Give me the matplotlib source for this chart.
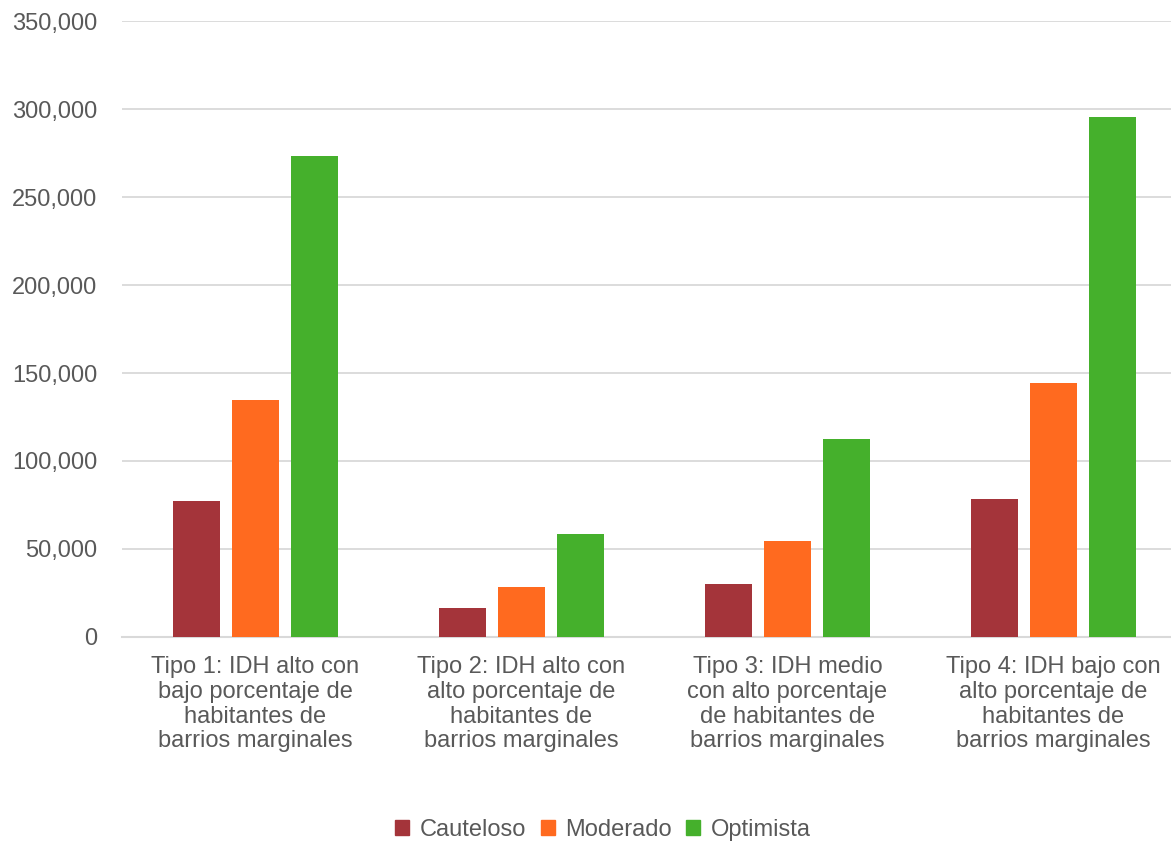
import numpy as np
import matplotlib.pyplot as plt
from matplotlib.ticker import FuncFormatter
from matplotlib.patches import Patch

plt.rcParams['font.family'] = ['Liberation Sans', 'DejaVu Sans']

categorias = [
    'Tipo 1: IDH alto con\nbajo porcentaje de\nhabitantes de\nbarrios marginales',
    'Tipo 2: IDH alto con\nalto porcentaje de\nhabitantes de\nbarrios marginales',
    'Tipo 3: IDH medio\ncon alto porcentaje\nde habitantes de\nbarrios marginales',
    'Tipo 4: IDH bajo con\nalto porcentaje de\nhabitantes de\nbarrios marginales',
]
series = ['Cauteloso', 'Moderado', 'Optimista']
cauteloso = [77300, 16500, 30300, 78400]
moderado = [134700, 28400, 54500, 144300]
optimista = [273500, 58500, 112500, 295500]
colores = ['#a4343a', '#ff6a1f', '#45b02c']

texto = '#595959'
rejilla = '#d9d9d9'

fig = plt.figure(figsize=(11.71, 8.42), dpi=100)
ax = fig.add_axes([0.1045, 0.2435, 0.9086, 0.7315])

x = np.arange(len(categorias))
paso = 0.222
ancho = 0.177
for i, (nombre, valores) in enumerate(zip(series, [cauteloso, moderado, optimista])):
    ax.bar(x + (i - 1) * paso, valores, width=ancho, color=colores[i],
           label=nombre, zorder=3)

ax.set_xlim(-0.5, len(categorias) - 0.5)
ax.set_ylim(0, 350000)
ax.set_yticks(np.arange(0, 350001, 50000))
ax.yaxis.set_major_formatter(FuncFormatter(lambda v, p: f'{int(v):,}'))
ax.grid(axis='y', color=rejilla, linewidth=1.3, zorder=0)

for s in ['top', 'right', 'left']:
    ax.spines[s].set_visible(False)
ax.spines['bottom'].set_color(rejilla)
ax.spines['bottom'].set_linewidth(1.5)

ax.set_xticks(x)
ax.set_xticklabels(categorias, fontsize=17, color=texto, linespacing=1.15)
ax.tick_params(axis='x', length=0, pad=14)
ax.tick_params(axis='y', length=0, pad=18, labelsize=17, labelcolor=texto)

handles = [Patch(color=c, label=n) for c, n in zip(colores, series)]
fig.legend(handles=handles, loc='center', bbox_to_anchor=(0.515, 0.014),
           ncol=3, frameon=False, fontsize=17, handlelength=0.6,
           handleheight=0.6, handletextpad=0.45, columnspacing=0.6,
           labelcolor=texto)

fig.savefig('out.png', dpi=100)
